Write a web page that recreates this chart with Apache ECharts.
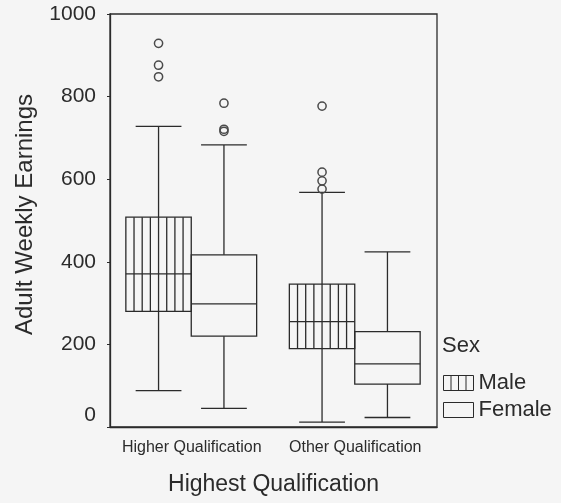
<!DOCTYPE html>
<html>
<head>
<meta charset="utf-8">
<title>Adult Weekly Earnings by Highest Qualification</title>
<script src="https://cdn.jsdelivr.net/npm/echarts@6/dist/echarts.min.js"></script>
<style>
  html, body { margin: 0; padding: 0; background: #f5f5f5; }
  #chart { width: 561px; height: 503px; }
</style>
</head>
<body>
<div id="chart"></div>
<script>
// Qualification groups on the x axis
const categories = ['Higher Qualification', 'Other Qualification'];

// Five-number summaries per group: [lower whisker, Q1, median, Q3, upper whisker]
const maleStats = [
  [88, 280, 371, 508, 728],
  [12, 190, 255, 346, 568]
];
const femaleStats = [
  [45, 220, 298, 417, 683],
  [23, 104, 153, 231, 424]
];

// Outliers: [group index, earnings]
const maleOutliers = [
  [0, 929], [0, 876], [0, 848],
  [1, 777], [1, 617], [1, 596], [1, 576]
];
const femaleOutliers = [
  [0, 784], [0, 721], [0, 716]
];

// Y axis ticks
const yTicks = [0, 200, 400, 600, 800, 1000];

const FONT = 'Liberation Sans, Arial, Helvetica, sans-serif';
const INK = '#2b2b2b';
const LINE_W = 1.3;
const BOX_FRAC = 0.4;   // box width as a share of the category band
const CAP_FRAC = 0.7;   // whisker cap width as a share of the box width
const JOIN = 0.5;       // boxes meet just left of the category centre
const HATCH_STEPS = 8;  // vertical hatching in the male boxes

function boxGeometry(api, side) {
  const cat = api.value(0);
  const band = api.size([1, 0])[0];
  const center = api.coord([cat, 0])[0];
  const w = band * BOX_FRAC;
  const x0 = side < 0 ? center - JOIN - w : center - JOIN;
  return { cat: cat, w: w, x0: x0, mid: x0 + w / 2 };
}

function makeBoxRenderer(side, hatched) {
  return function (params, api) {
    const g = boxGeometry(api, side);
    const y = function (dim) { return api.coord([g.cat, api.value(dim)])[1]; };
    const yMin = y(1), yQ1 = y(2), yMed = y(3), yQ3 = y(4), yMax = y(5);
    const capHalf = g.w * CAP_FRAC / 2;
    const stroke = { stroke: INK, lineWidth: LINE_W, fill: null };
    const line = function (x1, y1, x2, y2) {
      return { type: 'line', shape: { x1: x1, y1: y1, x2: x2, y2: y2 }, style: stroke };
    };
    const children = [
      line(g.mid, yQ3, g.mid, yMax),
      line(g.mid, yQ1, g.mid, yMin),
      line(g.mid - capHalf, yMax, g.mid + capHalf, yMax),
      line(g.mid - capHalf, yMin, g.mid + capHalf, yMin),
      { type: 'rect', shape: { x: g.x0, y: yQ3, width: g.w, height: yQ1 - yQ3 },
        style: { stroke: INK, lineWidth: LINE_W, fill: 'rgba(0,0,0,0)' } },
      line(g.x0, yMed, g.x0 + g.w, yMed)
    ];
    if (hatched) {
      for (let i = 1; i < HATCH_STEPS; i++) {
        const hx = g.x0 + g.w * i / HATCH_STEPS;
        children.push(line(hx, yQ3, hx, yQ1));
      }
    }
    return { type: 'group', children: children };
  };
}

function makeOutlierRenderer(side) {
  return function (params, api) {
    const g = boxGeometry(api, side);
    const py = api.coord([g.cat, api.value(1)])[1];
    return {
      type: 'circle',
      shape: { cx: g.mid, cy: py, r: 4.1 },
      style: { stroke: '#4a4a4a', lineWidth: 1.5, fill: 'rgba(0,0,0,0)' }
    };
  };
}

const boxData = function (stats) {
  return stats.map(function (s, i) { return [i].concat(s); });
};

const hatchIcon = 'path://M0,0H30V15H0ZM7.5,0V15M15,0V15M22.5,0V15';
const plainIcon = 'path://M0,0H30V15H0Z';

const chart = echarts.init(document.getElementById('chart'), null, { renderer: 'canvas' });

chart.setOption({
  backgroundColor: '#f5f5f5',
  animation: false,
  textStyle: { fontFamily: FONT, color: INK },
  title: {
    text: 'Sex',
    left: 442,
    top: 335,
    padding: 0,
    textStyle: { fontFamily: FONT, fontSize: 22, fontWeight: 'normal', color: INK }
  },
  legend: {
    orient: 'vertical',
    left: 443,
    top: 372,
    padding: 0,
    itemGap: 5,
    itemWidth: 30,
    itemHeight: 15,
    selectedMode: false,
    textStyle: { fontFamily: FONT, fontSize: 22, color: INK },
    itemStyle: { color: 'rgba(0,0,0,0)', borderColor: INK, borderWidth: 1 },
    data: [
      { name: 'Male', icon: hatchIcon },
      { name: 'Female', icon: plainIcon }
    ]
  },
  grid: {
    left: 110,
    top: 14,
    width: 327,
    height: 413,
    show: true,
    backgroundColor: 'rgba(0,0,0,0)',
    borderColor: INK,
    borderWidth: LINE_W
  },
  xAxis: {
    type: 'category',
    data: categories,
    boundaryGap: true,
    name: 'Highest Qualification',
    nameLocation: 'middle',
    nameGap: 46,
    nameTextStyle: { fontFamily: FONT, fontSize: 23, color: INK },
    axisLine: { lineStyle: { color: INK, width: LINE_W } },
    axisTick: { alignWithLabel: true, length: 4, lineStyle: { color: INK, width: 1 } },
    axisLabel: { interval: 0, hideOverlap: false, fontFamily: FONT, fontSize: 16, color: INK, margin: 13 },
    splitLine: { show: false }
  },
  yAxis: {
    type: 'value',
    min: yTicks[0],
    max: yTicks[yTicks.length - 1],
    interval: yTicks[1] - yTicks[0],
    name: 'Adult Weekly Earnings',
    nameLocation: 'middle',
    nameGap: 73,
    nameTextStyle: { fontFamily: FONT, fontSize: 24, color: INK, padding: [0, 0, 0, 12] },
    axisLine: { show: true, lineStyle: { color: INK, width: LINE_W } },
    axisTick: { show: true, length: 3, lineStyle: { color: INK, width: 1 } },
    axisLabel: {
      fontFamily: FONT,
      fontSize: 21,
      color: INK,
      margin: 14,
      formatter: function (v) { return v === 0 ? '{lift|0}' : String(v); },
      rich: { lift: { fontFamily: FONT, fontSize: 21, color: INK, padding: [0, 0, 24, 0] } }
    },
    splitLine: { show: false }
  },
  series: [
    {
      name: 'Male',
      type: 'custom',
      renderItem: makeBoxRenderer(-1, true),
      encode: { x: 0, y: [1, 2, 3, 4, 5] },
      itemStyle: { color: INK },
      data: boxData(maleStats)
    },
    {
      name: 'Female',
      type: 'custom',
      renderItem: makeBoxRenderer(1, false),
      encode: { x: 0, y: [1, 2, 3, 4, 5] },
      itemStyle: { color: INK },
      data: boxData(femaleStats)
    },
    {
      name: 'Male',
      type: 'custom',
      renderItem: makeOutlierRenderer(-1),
      encode: { x: 0, y: 1 },
      itemStyle: { color: INK },
      data: maleOutliers
    },
    {
      name: 'Female',
      type: 'custom',
      renderItem: makeOutlierRenderer(1),
      encode: { x: 0, y: 1 },
      itemStyle: { color: INK },
      data: femaleOutliers
    }
  ]
});
</script>
</body>
</html>
